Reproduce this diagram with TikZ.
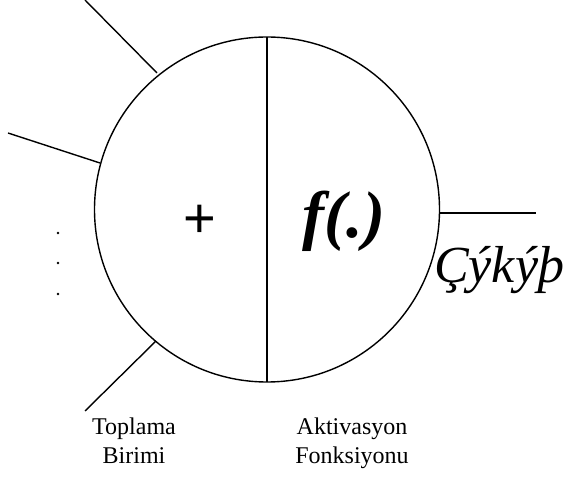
\documentclass[tikz,border=0pt]{standalone}
\usepackage{fontspec}
\setmainfont{Liberation Serif}
\newfontfamily\plusfont{Liberation Sans}
\begin{document}
\begin{tikzpicture}[x=1pt,y=-1pt,
  ln/.style={line width=1.4pt, line cap=butt},
  lbl/.style={font=\fontsize{24}{29}\selectfont, align=center, inner sep=0pt},
  dotmark/.style={circle, fill=black, inner sep=0pt, minimum size=2.8pt}]
\useasboundingbox (0,0) rectangle (568,478);
\node[circle, draw, line width=1.4pt, minimum size=345pt, inner sep=0pt] (neuron) at (267,209.5) {};
\coordinate (top) at (267,37);
\coordinate (bot) at (267,382);
\draw[ln] (top) -- (bot);
% inputs
\coordinate (i1) at (85,0);
\coordinate (c1) at (157,73);
\coordinate (i2) at (8,133);
\coordinate (c2) at (100,163);
\coordinate (i3) at (85,411);
\coordinate (c3) at (156,341);
\draw[ln] (i1) -- (c1);
\draw[ln] (i2) -- (c2);
\draw[ln] (i3) -- (c3);
% output
\coordinate (o1) at (440,213);
\coordinate (o2) at (536,213);
\draw[ln] (o1) -- (o2);
% dots
\node[dotmark] (d1) at (58,233) {};
\node[dotmark] (d2) at (58,263) {};
\node[dotmark] (d3) at (58,294) {};
% texts
\node[inner sep=0pt, font=\plusfont\fontsize{56}{56}\selectfont] (plus) at (200,221) {+};
\node[inner sep=0pt, anchor=base, font=\fontsize{66}{66}\selectfont\bfseries\itshape] (f) at (344,238) {f(.)};
\node[inner sep=0pt, anchor=base west, font=\fontsize{52}{52}\selectfont\itshape] (out) at (434,283) {Çýkýþ};
\node[lbl, anchor=north] (sum) at (134,418) {Toplama\\Birimi};
\node[lbl, anchor=north] (act) at (352,418) {Aktivasyon\\Fonksiyonu};
\end{tikzpicture}
\end{document}
